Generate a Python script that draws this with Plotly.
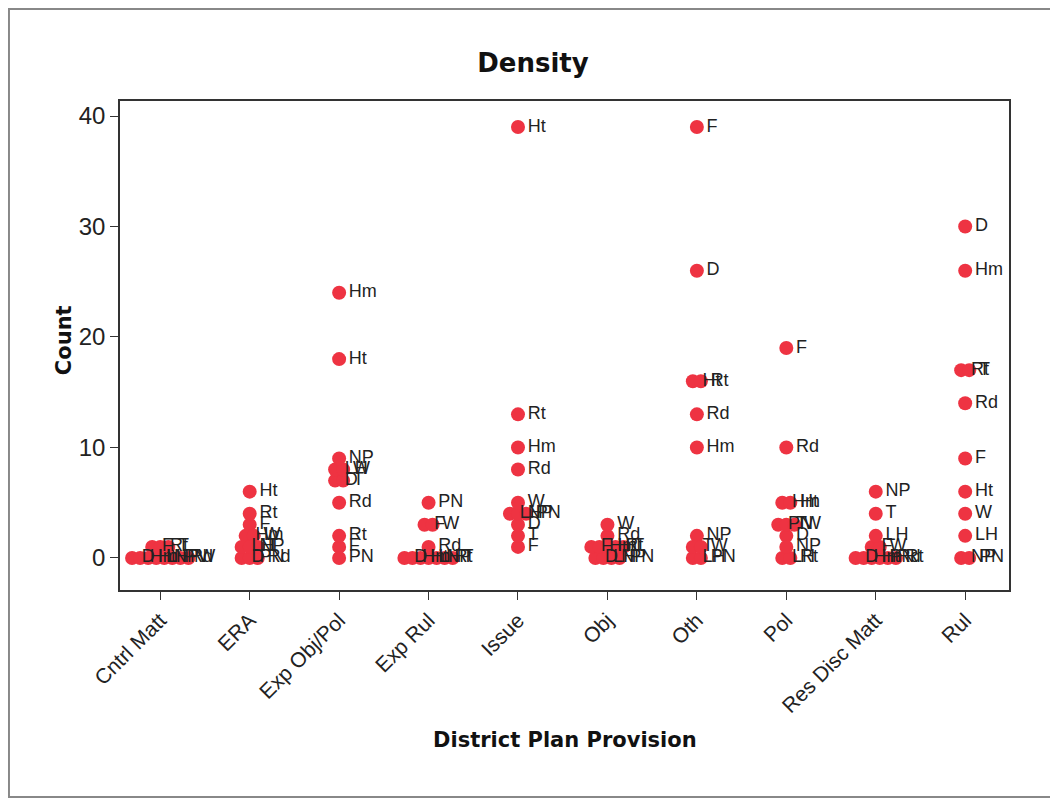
import plotly.graph_objects as go

categories = ["Cntrl Matt", "ERA", "Exp Obj/Pol", "Exp Rul", "Issue",
              "Obj", "Oth", "Pol", "Res Disc Matt", "Rul"]
districts = ["D", "F", "Hm", "Ht", "LH", "NP", "PN", "Rd", "Rt", "T", "W"]

# counts per category, in the order of `districts`
cntrl_matt    = [0, 1, 0, 0, 0, 0, 0, 0, 1, 1, 0]
era           = [0, 3, 2, 6, 1, 1, 0, 0, 4, 1, 2]
exp_obj_pol   = [7, 1, 24, 18, 8, 9, 0, 5, 2, 7, 8]
exp_rul       = [0, 3, 0, 0, 0, 0, 5, 1, 0, 0, 3]
issue         = [3, 1, 10, 39, 4, 4, 4, 8, 13, 2, 5]
obj           = [0, 1, 1, 1, 0, 0, 0, 2, 1, 1, 3]
oth           = [26, 39, 10, 16, 0, 2, 0, 13, 16, 1, 1]
pol           = [2, 19, 5, 5, 0, 1, 3, 10, 0, 3, 3]
res_disc_matt = [0, 1, 0, 0, 2, 6, 0, 0, 0, 4, 1]
rul           = [30, 9, 26, 6, 2, 0, 0, 14, 17, 17, 4]

series = [cntrl_matt, era, exp_obj_pol, exp_rul, issue,
          obj, oth, pol, res_disc_matt, rul]

y_ticks = [0, 10, 20, 30, 40]

# spread points that share a value side by side (dot-plot style)
xs, ys, texts = [], [], []
step = 0.09
for ci, vals in enumerate(series):
    groups = {}
    for d, v in zip(districts, vals):
        groups.setdefault(v, []).append(d)
    for v, ds in groups.items():
        n = len(ds)
        for k, d in enumerate(ds):
            off = (k - (n - 1) / 2) * step
            xs.append(ci + off)
            ys.append(v)
            texts.append(d)

fig = go.Figure(go.Scatter(
    x=xs, y=ys, text=texts, mode="markers+text",
    textposition="middle right",
    textfont=dict(family="Liberation Sans, Arial, sans-serif", size=18, color="#222222"),
    marker=dict(color="#EE3342", size=14, line=dict(width=0)),
    hoverinfo="text", cliponaxis=False,
))

W, H = 1050, 793
bold_font = "DejaVu Sans, Liberation Sans, sans-serif"
fig.update_layout(
    width=W, height=H,
    paper_bgcolor="white", plot_bgcolor="white",
    margin=dict(l=112, r=49, t=93, b=211),
    showlegend=False,
    title=dict(text="<b>Density</b>", x=0.5, xref="container", y=1 - 55 / H,
               yanchor="middle",
               font=dict(family=bold_font, size=26, color="#111111")),
    xaxis=dict(range=[-0.45, 9.49], tickvals=list(range(len(categories))),
               ticktext=categories, tickangle=-45, showgrid=False, zeroline=False,
               showline=True, linecolor="#333333", linewidth=1.5, mirror=True,
               ticks="outside", ticklen=8, tickcolor="#333333",
               tickfont=dict(family="Liberation Sans, Arial, sans-serif", size=21, color="#222222")),
    yaxis=dict(range=[-2.9, 41.36], tickvals=y_ticks, showgrid=False, zeroline=False,
               showline=True, linecolor="#333333", linewidth=1.5, mirror=True,
               ticks="outside", ticklen=8, tickcolor="#333333",
               tickfont=dict(family="Liberation Sans, Arial, sans-serif", size=24, color="#222222")),
    annotations=[
        dict(text="<b>Count</b>", x=-0.0787, y=0.511, xref="paper", yref="paper",
             showarrow=False, textangle=-90,
             font=dict(family=bold_font, size=21, color="#111111")),
        dict(text="<b>District Plan Provision</b>", x=0.5, y=-0.335, xref="paper", yref="paper",
             showarrow=False,
             font=dict(family=bold_font, size=21, color="#111111")),
    ],
    shapes=[dict(type="rect", xref="paper", yref="paper",
                 x0=-0.1249, x1=1.0495, y0=-0.4233, y1=1.188,
                 line=dict(color="#888888", width=2))],
)

fig.write_html("out.html")
